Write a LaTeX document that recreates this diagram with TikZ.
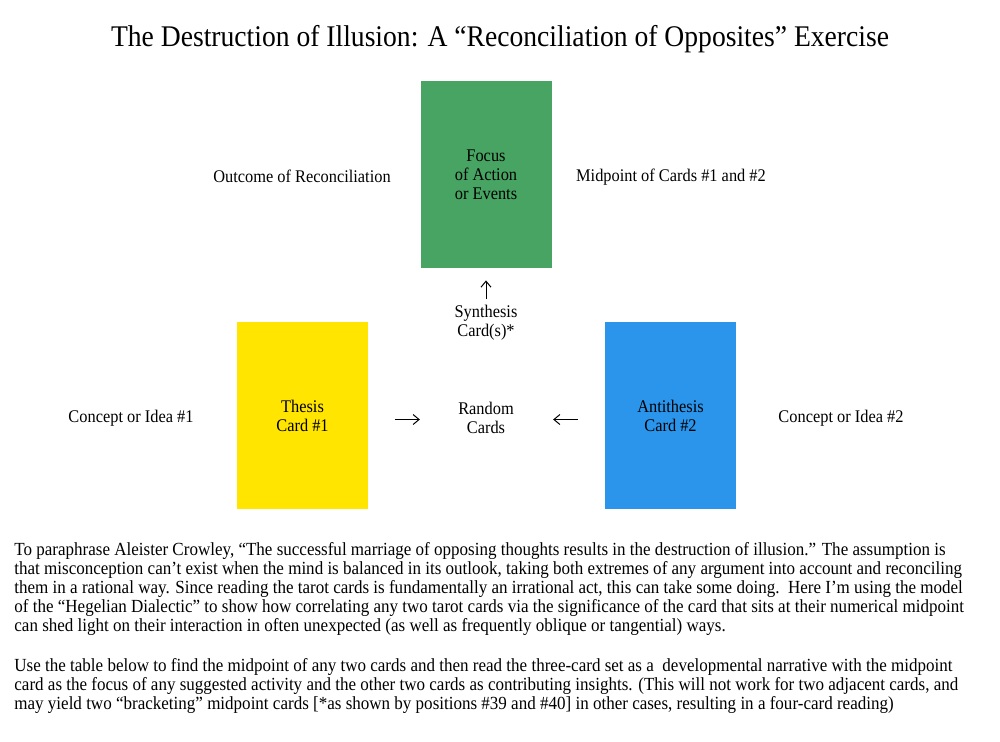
\documentclass[tikz,border=0pt]{standalone}
\usepackage{fontspec}
\setmainfont{Liberation Serif}[FakeStretch=0.92]
\usetikzlibrary{arrows.meta}
\definecolor{cardgreen}{HTML}{47A462}
\definecolor{cardyellow}{HTML}{FFE500}
\definecolor{cardblue}{HTML}{2B95EC}
\tikzset{card/.style={minimum width=65.5pt,minimum height=93.5pt,inner sep=0,align=center},
  lbl/.style={align=center,inner sep=0},
  para/.style={anchor=north west,align=left,inner sep=0,font=\fontsize{9.25}{9.5}\selectfont},
  arr/.style={-{Straight Barb[length=3pt,width=5pt]},line width=.5pt}}
\begin{document}
\begin{tikzpicture}[x=.5pt,y=-.5pt,font=\fontsize{8.9}{9.5}\selectfont]
\useasboundingbox(0,0)rectangle(1000,741);
\node[lbl,font=\fontsize{15}{17}\selectfont](title)at(500,39){The Destruction of Illusion: A “Reconciliation of Opposites” Exercise};
\node[card,fill=cardgreen](focus)at(486,174.5){Focus\\of Action\\or Events};
\node[card,fill=cardyellow](thesis)at(302.5,415.5){Thesis\\Card \#1};
\node[card,fill=cardblue](anti)at(670.5,415.5){Antithesis\\Card \#2};
\node[lbl](outcome)at(302,176){Outcome of Reconciliation};
\node[lbl](midpt)at(671,177.5){Midpoint of Cards \#1 and \#2};
\node[lbl](synth)at(486,323){Synthesis\\Card(s)*};
\node[lbl](random)at(486,417.5){Random\\Cards};
\node[lbl](idea1)at(131,418){Concept or Idea \#1};
\node[lbl](idea2)at(841,418){Concept or Idea \#2};
\draw[arr,shorten <=3pt,shorten >=6pt](synth.north)--(focus.south);
\draw[arr,shorten <=13.5pt,shorten >=19pt]([yshift=-1pt]thesis.east|-random)--([yshift=-1pt]random.west);
\draw[arr,shorten <=13.5pt,shorten >=19.5pt]([yshift=-1pt]anti.west|-random)--([yshift=-1pt]random.east);
\node[para](para1)at(14,542){To paraphrase Aleister Crowley, “The successful marriage of opposing thoughts results in the destruction of illusion.” The assumption is\\
that misconception can't exist when the mind is balanced in its outlook, taking both extremes of any argument into account and reconciling\\
them in a rational way. Since reading the tarot cards is fundamentally an irrational act, this can take some doing.\ \ Here I'm using the model\\
of the “Hegelian Dialectic” to show how correlating any two tarot cards via the significance of the card that sits at their numerical midpoint\\
can shed light on their interaction in often unexpected (as well as frequently oblique or tangential) ways.};
\node[para](para2)at(14,658){Use the table below to find the midpoint of any two cards and then read the three-card set as a\ \ developmental narrative with the midpoint\\
card as the focus of any suggested activity and the other two cards as contributing insights. (This will not work for two adjacent cards, and\\
may yield two “bracketing” midpoint cards [*as shown by positions \#39 and \#40] in other cases, resulting in a four-card reading)};
\end{tikzpicture}
\end{document}
